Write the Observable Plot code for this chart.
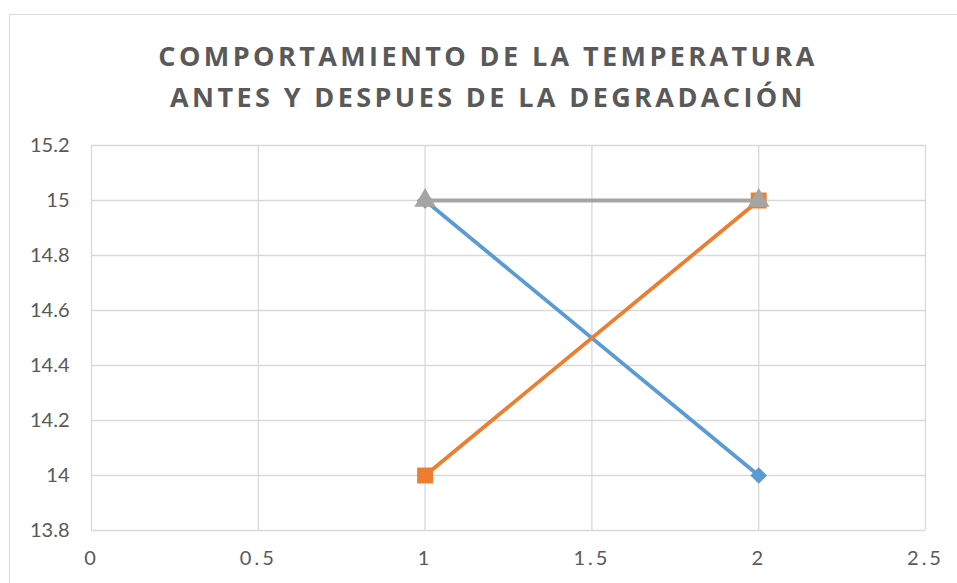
<!DOCTYPE html>
<html>
<head>
<meta charset="utf-8">
<script src="https://cdn.jsdelivr.net/npm/d3@7"></script>
<script src="https://cdn.jsdelivr.net/npm/@observablehq/plot@0.6"></script>
<style>
  html, body { margin: 0; padding: 0; background: #fff; }
  #wrap { position: relative; width: 957px; height: 583px; overflow: hidden; background: #fff; }
  #border { position: absolute; left: 9px; top: 14px; width: 980px; height: 620px; border: 1.5px solid #d9d9d9; box-sizing: border-box; }
  #title { position: relative; width: 976px; height: 125px; padding-top: 35px; box-sizing: border-box; text-align: center;
           font-family: "Open Sans", sans-serif; font-weight: 700; font-size: 27px; letter-spacing: 3.4px; line-height: 41px; color: #595959; }
  #chart { position: relative; }
  g[aria-label="x-axis tick label"] text { letter-spacing: 3px; }
</style>
</head>
<body>
<div id="wrap">
  <div id="border"></div>
  <div id="title">COMPORTAMIENTO DE LA TEMPERATURA<br>ANTES Y DESPUES DE LA DEGRADACIÓN</div>
  <div id="chart"></div>
</div>
<script>
const xValues = [1, 2];
const serieAzul = [15, 14];
const serieNaranja = [14, 15];
const serieGris = [15, 15];
const xTicks = [0, 0.5, 1, 1.5, 2, 2.5];
const yTicks = [13.8, 14, 14.2, 14.4, 14.6, 14.8, 15, 15.2];

const toRows = (ys) => xValues.map((x, i) => ({x, y: ys[i]}));
const azul = toRows(serieAzul);
const naranja = toRows(serieNaranja);
const gris = toRows(serieGris);

const plot = Plot.plot({
  width: 957,
  height: 458,
  marginTop: 20,
  marginLeft: 91,
  marginRight: 32,
  marginBottom: 53,
  style: { fontFamily: "Lato, sans-serif", fontSize: "20px", color: "#595959", background: "transparent" },
  x: { domain: [0, 2.5], ticks: xTicks, label: null },
  y: { domain: [13.8, 15.2], ticks: yTicks, label: null },
  marks: [
    Plot.gridX(xTicks, { stroke: "#d9d9d9", strokeOpacity: 1, strokeWidth: 1.3 }),
    Plot.gridY(yTicks, { stroke: "#d9d9d9", strokeOpacity: 1, strokeWidth: 1.3 }),
    Plot.axisY(yTicks, { tickSize: 0, tickPadding: 22, tickFormat: d => String(d), fill: "#595959", fontSize: 20, label: null }),
    Plot.axisX(xTicks, { tickSize: 0, tickPadding: 20, tickFormat: d => String(d), fill: "#595959", fontSize: 20, label: null }),
    Plot.line(azul, { x: "x", y: "y", stroke: "#5b9bd5", strokeWidth: 3.8 }),
    Plot.dot(azul, { x: "x", y: "y", symbol: "diamond2", r: 7.5, fill: "#5b9bd5", stroke: "none" }),
    Plot.line(naranja, { x: "x", y: "y", stroke: "#ed7d31", strokeWidth: 3.8 }),
    Plot.dot(naranja, { x: "x", y: "y", symbol: "square", r: 9, fill: "#ed7d31", stroke: "none" }),
    Plot.line(gris, { x: "x", y: "y", stroke: "#a5a5a5", strokeWidth: 3.8 }),
    Plot.dot(gris, { x: "x", y: "y", symbol: "triangle", r: 8, fill: "#a5a5a5", stroke: "none" })
  ]
});
document.getElementById("chart").appendChild(plot);
</script>
</body>
</html>
